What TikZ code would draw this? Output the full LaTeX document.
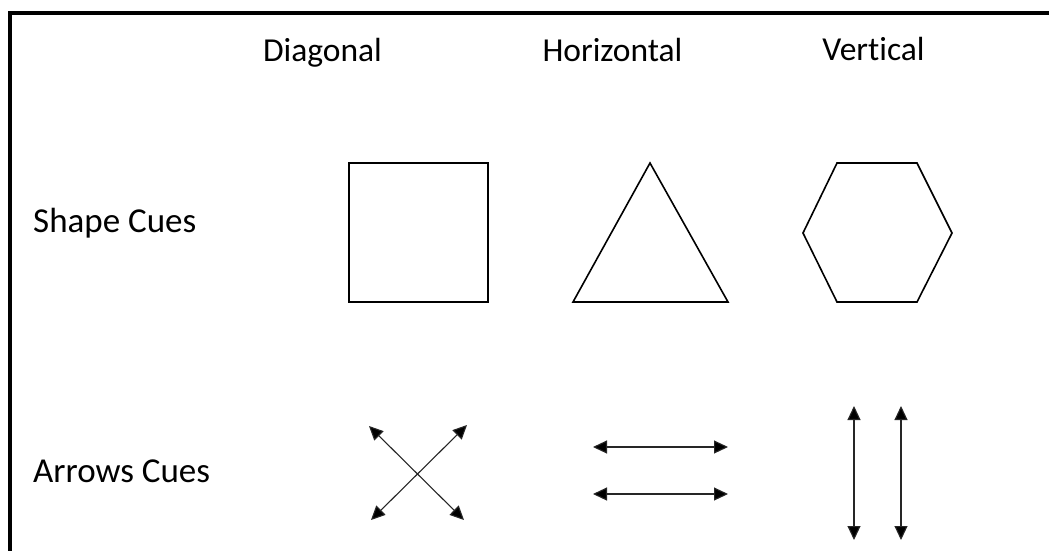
\documentclass[tikz,border=0pt]{standalone}
\usepackage{fontspec}
\setmainfont[RawFeature={-liga;-dlig}]{Carlito}
\usetikzlibrary{arrows.meta}
\tikzset{
  hdr/.style={font=\fontsize{33.5}{38}\selectfont, inner sep=0pt},
  lbl/.style={font=\fontsize{35}{40}\selectfont, inner sep=0pt},
  shp/.style={draw=black, line width=1.6pt, line join=miter},
  dbl/.style={draw=black!85, line width=1.1pt, {Triangle[length=14pt,width=13pt,fill=black]}-{Triangle[length=14pt,width=13pt,fill=black]}},
  frame/.style={draw=black, line width=4pt}
}
\begin{document}
\begin{tikzpicture}[x=1pt,y=-1pt]
\useasboundingbox (0,0) rectangle (1049,550);
\fill[white] (0,0) rectangle (1049,550);
% frame
\coordinate (fb) at (10,552);
\coordinate (fc) at (10,13);
\coordinate (fr) at (1051,13);
\draw[frame] (fb) -- (fc) -- (fr);
% headers
\node[hdr, anchor=base] (diag) at (322.5,61) {Diagonal};
\node[hdr, anchor=base] (horiz) at (612.5,61) {Horizontal};
\node[hdr, anchor=base] (vert) at (873.5,60) {Vertical};
\node[lbl, anchor=base west] (shapecues) at (33,232) {Shape Cues};
\node[lbl, anchor=base west] (arrowcues) at (33,482) {Arrows Cues};
% shapes
\draw[shp] (349,163) rectangle (488,302);
\draw[shp] (650,163) -- (728,302) -- (573,302) -- cycle;
\draw[shp] (803,233) -- (837,163) -- (917,163) -- (952,233) -- (917,302) -- (837,302) -- cycle;
% diagonal arrows
\coordinate (d1a) at (369,426);
\coordinate (d1b) at (464,520);
\coordinate (d2a) at (467,425);
\coordinate (d2b) at (371,520);
\draw[dbl] (d1a) -- (d1b);
\draw[dbl] (d2a) -- (d2b);
% horizontal arrows
\coordinate (h1a) at (593,447);
\coordinate (h1b) at (728,447);
\coordinate (h2a) at (593,494);
\coordinate (h2b) at (728,494);
\draw[dbl] (h1a) -- (h1b);
\draw[dbl] (h2a) -- (h2b);
% vertical arrows
\coordinate (v1a) at (854,406);
\coordinate (v1b) at (854,540);
\coordinate (v2a) at (901,406);
\coordinate (v2b) at (901,540);
\draw[dbl] (v1a) -- (v1b);
\draw[dbl] (v2a) -- (v2b);
\end{tikzpicture}
\end{document}
